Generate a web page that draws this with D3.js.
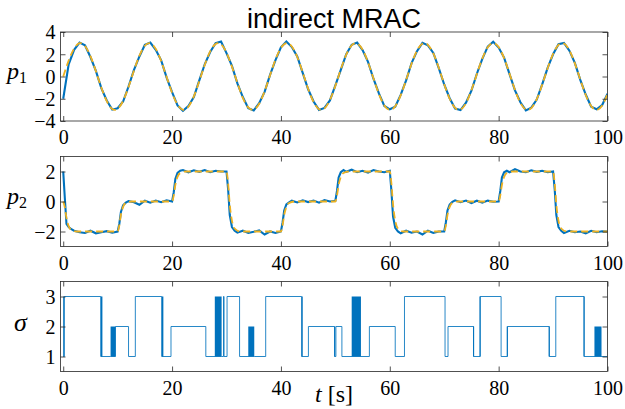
<!DOCTYPE html>
<html><head><meta charset="utf-8">
<script src="https://cdn.jsdelivr.net/npm/d3@7"></script>
<style>body{margin:0;background:#fff;overflow:hidden}</style>
</head><body>
<svg id="c" width="625" height="409"></svg>
<script>
// ---------- data ----------
const p1Time = d3.range(0, 101, 1);
const p1Ref = [0,1.43,2.51,2.99,2.74,1.83,0.48,-0.99,-2.22,-2.92,-2.90,-2.19,-0.94,0.53,1.87,2.76,2.99,2.48,1.38,-0.05,
 -1.47,-2.54,-2.99,-2.72,-1.79,-0.42,1.04,2.26,2.93,2.89,2.15,0.89,-0.58,-1.92,-2.78,-2.98,-2.45,-1.33,0.11,1.53,
 2.57,3.00,2.70,1.75,0.37,-1.10,-2.30,-2.94,-2.87,-2.11,-0.84,0.64,1.96,2.80,2.97,2.42,1.28,-0.16,-1.57,-2.60,
 -3.00,-2.67,-1.70,-0.31,1.15,2.33,2.95,2.85,2.07,0.79,-0.69,-2.00,-2.82,-2.97,-2.39,-1.23,0.22,1.62,2.63,3.00,
 2.65,1.65,0.26,-1.20,-2.37,-2.96,-2.84,-2.04,-0.73,0.74,2.04,2.84,2.96,2.36,1.18,-0.27,-1.66,-2.65,-3.00,-2.63,-1.60];
const p1Est = [-2.00,1.10,2.40,3.05,2.80,1.75,0.50,-1.05,-2.15,-2.98,-2.85,-2.25,-0.90,0.60,1.80,2.85,3.05,2.40,1.45,-0.10,
 -1.40,-2.60,-3.08,-2.65,-1.85,-0.35,1.10,2.20,3.00,3.15,2.10,0.95,-0.62,-1.85,-2.85,-3.05,-2.40,-1.38,0.15,1.48,
 2.62,3.15,2.65,1.80,0.32,-1.15,-2.25,-3.00,-2.82,-2.15,-0.80,0.60,2.00,2.85,3.05,2.38,1.32,-0.20,-1.52,-2.65,
 -2.95,-2.72,-1.65,-0.35,1.20,2.28,3.02,2.80,2.12,0.75,-0.72,-1.95,-2.88,-3.02,-2.35,-1.27,0.25,1.58,2.68,3.12,
 2.60,1.70,0.22,-1.25,-2.32,-3.05,-2.80,-2.08,-0.70,0.78,2.00,2.90,3.02,2.32,1.22,-0.30,-1.62,-2.72,-2.95,-2.58,-1.55];

const p2RefTime = [0,0.3,0.6,1,1.5,2.5, 10,10.3,10.6,11,11.5,12.5, 20,20.3,20.6,21,21.5,22.5, 30,30.3,30.6,31,31.5,32.5,
 40,40.3,40.6,41,41.5,42.5, 50,50.3,50.6,51,51.5,52.5, 60,60.3,60.6,61,61.5,62.5, 70,70.3,70.6,71,71.5,72.5,
 80,80.3,80.6,81,81.5,82.5, 90,90.3,90.6,91,91.5,92.5, 100];
const p2Ref = [0,-0.4,-1.1,-1.64,-1.9,-2, -2,-1.6,-0.9,-0.36,-0.1,0, 0,0.4,1.1,1.64,1.9,2, 2,1.2,-0.2,-1.28,-1.8,-2,
 -2,-1.6,-0.9,-0.36,-0.1,0, 0,0.4,1.1,1.64,1.9,2, 2,1.2,-0.2,-1.28,-1.8,-2, -2,-1.6,-0.9,-0.36,-0.1,0,
 0,0.4,1.1,1.64,1.9,2, 2,1.2,-0.2,-1.28,-1.8,-2, -2];

const p2EstTime = [0,0.3,0.6,1,1.5,2,3,4,5,6,7,8,9,10,10.3,10.6,11,11.5,12,13,14,15,16,17,18,19,20,20.3,20.6,21,21.5,22,
 23,24,25,26,27,28,29,30,30.3,30.6,31,31.5,32,33,34,35,36,37,38,39,40,40.3,40.6,41,41.5,42,43,44,45,46,47,48,49,50,
 50.3,50.6,51,51.5,52,53,54,55,56,57,58,59,60,60.3,60.6,61,61.5,62,63,64,65,66,67,68,69,70,70.3,70.6,71,71.5,72,
 73,74,75,76,77,78,79,80,80.3,80.6,81,81.5,82,83,84,85,86,87,88,89,90,90.3,90.6,91,91.5,92,93,94,95,96,97,98,99,100];
const p2Est = [2.0,0.2,-1.5,-1.7,-1.85,-1.95,-2.05,-2.1,-1.95,-2.12,-2.05,-1.98,-2.08,-2.0,-1.5,-0.7,-0.25,-0.08,0.02,-0.05,-0.22,0.05,-0.08,0.06,-0.05,0.08,0.0,0.6,1.5,1.9,2.05,2.1,
 1.95,2.08,1.98,2.1,1.95,2.05,2.0,2.0,0.8,-0.9,-1.7,-1.95,-2.08,-1.95,-2.1,-2.02,-1.92,-2.2,-2.0,-2.1,-2.0,-1.4,-0.6,-0.2,-0.05,0.05,-0.06,0.08,-0.04,0.06,-0.08,0.1,0.0,0.05,
 0.7,1.6,1.95,2.1,1.98,2.12,1.95,2.05,1.92,2.1,2.0,1.95,2.05,0.7,-1.0,-1.75,-2.0,-2.12,-1.95,-2.08,-2.0,-2.2,-1.95,-2.1,-2.0,-2.0,-1.4,-0.6,-0.2,-0.02,0.08,
 -0.05,0.06,-0.1,0.05,-0.08,0.06,-0.02,0.0,0.7,1.6,1.95,2.05,1.95,2.15,2.0,1.95,2.08,1.98,2.05,1.95,2.0,0.8,-0.9,-1.7,-1.95,-2.1,-1.95,-2.05,-2.0,-2.12,-1.95,-2.05,-1.98,-2.0];

// switching signal: value holds from each time until the next
const sigmaTime = [0, 0.2, 6.9, 8.7, 9.6, 12.0, 13.25, 18.1, 19.8, 26.2, 29.1, 29.45, 29.55, 30.1, 32.4, 35.1, 37.2, 43.8,
 45.05, 49.85, 50.1, 51.2, 54.7, 56.25, 61.0, 62.7, 70.15, 70.7, 75.4, 76.6, 80.45, 81.6, 89.3, 90.5, 95.7, 100];
const sigmaValue = [1, 3, 1, 1, 2, 1, 3, 1, 2, 1, 1, 3, 1, 3, 1, 1, 3, 1,
 2, 1, 2, 1, 1, 2, 1, 3, 1, 2, 1, 3, 1, 2, 1, 3, 1, 1];
// intervals of fast switching (chattering)
const chatterStart = [0, 6.9, 8.7, 18.1, 27.85, 34.0, 43.8, 49.8, 53.0, 75.3, 76.5, 81.5, 89.2, 95.6, 97.6];
const chatterEnd   = [0.2, 7.2, 9.6, 18.4, 29.1, 35.1, 44.0, 49.95, 54.7, 75.45, 76.65, 81.65, 89.35, 95.75, 98.9];
const chatterLow   = [1, 1, 1, 1, 1, 1, 1, 1, 1, 1, 1, 1, 1, 1, 1];
const chatterHigh  = [3, 3, 2, 3, 3, 2, 3, 2, 3, 2, 3, 2, 2, 3, 2];

const xTicks = [0, 20, 40, 60, 80, 100];
const p1Ticks = [-4, -2, 0, 2, 4];
const p2Ticks = [-2, 0, 2];
const sigmaTicks = [1, 2, 3];

// ---------- drawing ----------
const BLUE = "#0072BD", ORANGE = "#EDB120", AXC = "#262626";
const svg = d3.select("#c");
const L = 60.5, R = 607.5;
const x = d3.scaleLinear().domain([-0.5, 100]).range([L, R]);

function panel(id, top, bottom, ydom, yticks) {
  const y = d3.scaleLinear().domain(ydom).range([bottom, top]);
  const g = svg.append("g");
  g.append("clipPath").attr("id", id).append("rect")
    .attr("x", L).attr("y", top).attr("width", R - L).attr("height", bottom - top);
  const plot = g.append("g").attr("clip-path", `url(#${id})`);
  const axes = g.append("g");
  const ax = axes.append("g").attr("transform", `translate(0,${bottom})`)
    .call(d3.axisBottom(x).tickValues(xTicks).tickSizeInner(-5).tickSizeOuter(0).tickPadding(5).tickFormat(d3.format("d")));
  axes.append("g").attr("transform", `translate(0,${top})`)
    .call(d3.axisTop(x).tickValues(xTicks).tickSizeInner(-5).tickSizeOuter(0).tickFormat(""));
  const ay = axes.append("g").attr("transform", `translate(${L},0)`)
    .call(d3.axisLeft(y).tickValues(yticks).tickSizeInner(-5).tickSizeOuter(0).tickPadding(5).tickFormat(d3.format("d")));
  axes.append("g").attr("transform", `translate(${R},0)`)
    .call(d3.axisRight(y).tickValues(yticks).tickSizeInner(-5).tickSizeOuter(0).tickFormat(""));
  axes.selectAll(".domain").remove();
  axes.selectAll("line").attr("stroke", AXC).attr("stroke-width", 0.8);
  axes.selectAll("text").attr("font-family", "'Liberation Serif', serif").attr("font-size", 20).attr("fill", "#000");
  ax.selectAll("text").attr("dy", "0.9em");
  ay.selectAll("text").attr("dy", "0.34em");
  axes.append("rect").attr("x", L).attr("y", top).attr("width", R - L).attr("height", bottom - top)
    .attr("fill", "none").attr("stroke", AXC).attr("stroke-width", 0.8);
  return {y, plot};
}

// panel 1
const P1 = panel("c1", 32, 121, [-4, 4], p1Ticks);
P1.plot.append("path").datum(p1Time.map((t, i) => [t, p1Est[i]]))
  .attr("d", d3.line().x(d => x(d[0])).y(d => P1.y(d[1])).curve(d3.curveLinear))
  .attr("fill", "none").attr("stroke", BLUE).attr("stroke-width", 2.1);
P1.plot.append("path").datum(p1Time.map((t, i) => [t, p1Ref[i]]))
  .attr("d", d3.line().x(d => x(d[0])).y(d => P1.y(d[1])).curve(d3.curveNatural))
  .attr("fill", "none").attr("stroke", ORANGE).attr("stroke-width", 1.8).attr("stroke-dasharray", "7,4");

// panel 2
const P2 = panel("c2", 156.5, 246.5, [-3, 3], p2Ticks);
P2.plot.append("path").datum(p2EstTime.map((t, i) => [t, p2Est[i]]))
  .attr("d", d3.line().x(d => x(d[0])).y(d => P2.y(d[1])))
  .attr("fill", "none").attr("stroke", BLUE).attr("stroke-width", 2.1);
P2.plot.append("path").datum(p2RefTime.map((t, i) => [t, p2Ref[i]]))
  .attr("d", d3.line().x(d => x(d[0])).y(d => P2.y(d[1])).curve(d3.curveMonotoneX))
  .attr("fill", "none").attr("stroke", ORANGE).attr("stroke-width", 1.8).attr("stroke-dasharray", "7,4");

// panel 3
const P3 = panel("c3", 281.5, 371.5, [0.5, 3.5], sigmaTicks);
P3.plot.selectAll("rect.ch").data(chatterStart.map((s, i) => i)).join("rect").attr("class", "ch")
  .attr("x", i => x(chatterStart[i])).attr("width", i => Math.max(1, x(chatterEnd[i]) - x(chatterStart[i])))
  .attr("y", i => P3.y(chatterHigh[i])).attr("height", i => P3.y(chatterLow[i]) - P3.y(chatterHigh[i]))
  .attr("fill", BLUE);
P3.plot.append("path").datum(sigmaTime.map((t, i) => [t, sigmaValue[i]]))
  .attr("d", d3.line().x(d => x(d[0])).y(d => P3.y(d[1])).curve(d3.curveStepAfter))
  .attr("fill", "none").attr("stroke", BLUE).attr("stroke-width", 0.85);

// texts
const midX = (L + R) / 2;
svg.append("text").attr("x", midX).attr("y", 28).attr("text-anchor", "middle")
  .attr("font-family", "'Liberation Sans', Arial, sans-serif").attr("font-size", 27).text("indirect MRAC");

function ylab(yc, main, sub) {
  const t = svg.append("text").attr("x", 7).attr("y", yc).attr("font-family", "'Liberation Serif', serif")
    .attr("font-size", 24);
  t.append("tspan").attr("font-style", "italic").text(main);
  if (sub) t.append("tspan").attr("font-size", 16).attr("dy", 4).text(sub);
}
ylab(79, "p", "1");
ylab(204, "p", "2");
svg.append("text").attr("x", 14).attr("y", 331).attr("font-family", "'Liberation Serif', serif")
  .attr("font-size", 26).attr("font-style", "italic").text("σ");

const xl = svg.append("text").attr("x", midX).attr("y", 402).attr("text-anchor", "middle")
  .attr("font-family", "'Liberation Serif', serif").attr("font-size", 24);
xl.append("tspan").attr("font-style", "italic").text("t");
xl.append("tspan").text(" [s]");
</script>
</body></html>
